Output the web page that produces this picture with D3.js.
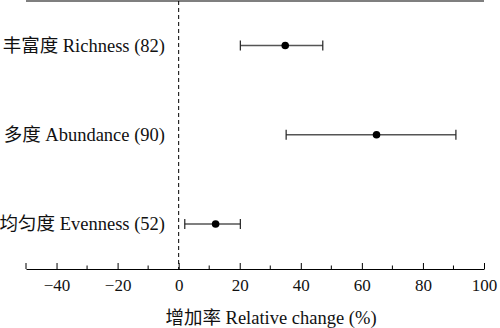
<!DOCTYPE html>
<html>
<head>
<meta charset="utf-8">
<script src="https://cdn.jsdelivr.net/npm/d3@7"></script>
<style>
  html, body { margin: 0; padding: 0; background: #fff; }
  svg { display: block; }
  text { font-family: "Liberation Serif", "Times New Roman", "Noto Sans CJK SC", serif; fill: #111; }
</style>
</head>
<body>
<svg id="chart" width="500" height="328"></svg>
<script>
// Effect sizes: relative change (%) with confidence limits
const categories = ["丰富度 Richness (82)", "多度 Abundance (90)", "均匀度 Evenness (52)"];
const meanValues = [34.9, 64.8, 12.1];
const lowerValues = [20.2, 35.2, 2.0];
const upperValues = [47.2, 90.8, 20.2];
const majorTicks = [-40, -20, 0, 20, 40, 60, 80, 100];
const minorTicks = [-50, -30, -10, 10, 30, 50, 70, 90];
const xTitle = "增加率 Relative change (%)";

const serif = "'Liberation Serif', 'Times New Roman', 'Noto Sans CJK SC', serif";
const svg = d3.select("#chart");
const plotLeft = 26, plotRight = 484, plotTop = 1, plotBottom = 269;

const x = d3.scaleLinear().domain([-50, 100]).range([plotLeft, plotRight]);
const y = d3.scalePoint().domain(categories).range([45.5, 224]);

// Top frame line
svg.append("line")
  .attr("x1", plotLeft).attr("x2", plotRight).attr("y1", plotTop).attr("y2", plotTop)
  .attr("stroke", "#000").attr("stroke-width", 1.2);

// Bottom axis with inward ticks
const axisG = svg.append("g").attr("transform", `translate(0,${plotBottom})`);
axisG.call(d3.axisBottom(x).tickValues(majorTicks).tickSize(0).tickPadding(0)
  .tickFormat(d => d < 0 ? "\u2212" + Math.abs(d) : d));
axisG.attr("font-family", serif);
axisG.select(".domain").attr("stroke", "#000").attr("stroke-width", 1.2);
axisG.selectAll(".tick text")
  .attr("font-size", 17)
  .attr("y", 22)
  .attr("dy", 0)
  .style("font-family", serif)
  .attr("fill", "#111");
axisG.selectAll(".tick").append("line")
  .attr("y1", 0).attr("y2", -6).attr("stroke", "#000").attr("stroke-width", 1);
axisG.selectAll(".minor")
  .data(minorTicks).enter().append("line")
  .attr("x1", d => x(d)).attr("x2", d => x(d))
  .attr("y1", 0).attr("y2", d => d === -50 ? -6 : -3.5)
  .attr("stroke", "#000").attr("stroke-width", 1);

// Zero reference line
svg.append("line")
  .attr("x1", x(0)).attr("x2", x(0)).attr("y1", plotTop).attr("y2", plotBottom)
  .attr("stroke", "#000").attr("stroke-width", 1)
  .attr("stroke-dasharray", "4,3");

// Axis title
svg.append("text")
  .attr("x", 271).attr("y", 324)
  .attr("text-anchor", "middle")
  .style("font-family", serif)
  .attr("font-size", 18.5)
  .text(xTitle);

// Category labels
svg.selectAll(".cat")
  .data(categories).enter().append("text")
  .attr("class", "cat")
  .attr("x", 165)
  .attr("y", d => y(d) + 6)
  .attr("text-anchor", "end")
  .style("font-family", serif)
  .attr("font-size", 18.5)
  .text(d => d);

// Error bars and means
const rows = categories.map((c, i) => ({ c, m: meanValues[i], lo: lowerValues[i], hi: upperValues[i] }));
const g = svg.selectAll(".row").data(rows).enter().append("g");
g.append("line")
  .attr("x1", d => x(d.lo)).attr("x2", d => x(d.hi))
  .attr("y1", d => y(d.c)).attr("y2", d => y(d.c))
  .attr("stroke", "#555").attr("stroke-width", 1.3);
g.append("line")
  .attr("x1", d => x(d.lo)).attr("x2", d => x(d.lo))
  .attr("y1", d => y(d.c) - 5).attr("y2", d => y(d.c) + 5)
  .attr("stroke", "#222").attr("stroke-width", 1.2);
g.append("line")
  .attr("x1", d => x(d.hi)).attr("x2", d => x(d.hi))
  .attr("y1", d => y(d.c) - 5).attr("y2", d => y(d.c) + 5)
  .attr("stroke", "#222").attr("stroke-width", 1.2);
g.append("circle")
  .attr("cx", d => x(d.m)).attr("cy", d => y(d.c))
  .attr("r", 3.8).attr("fill", "#000");
</script>
</body>
</html>
